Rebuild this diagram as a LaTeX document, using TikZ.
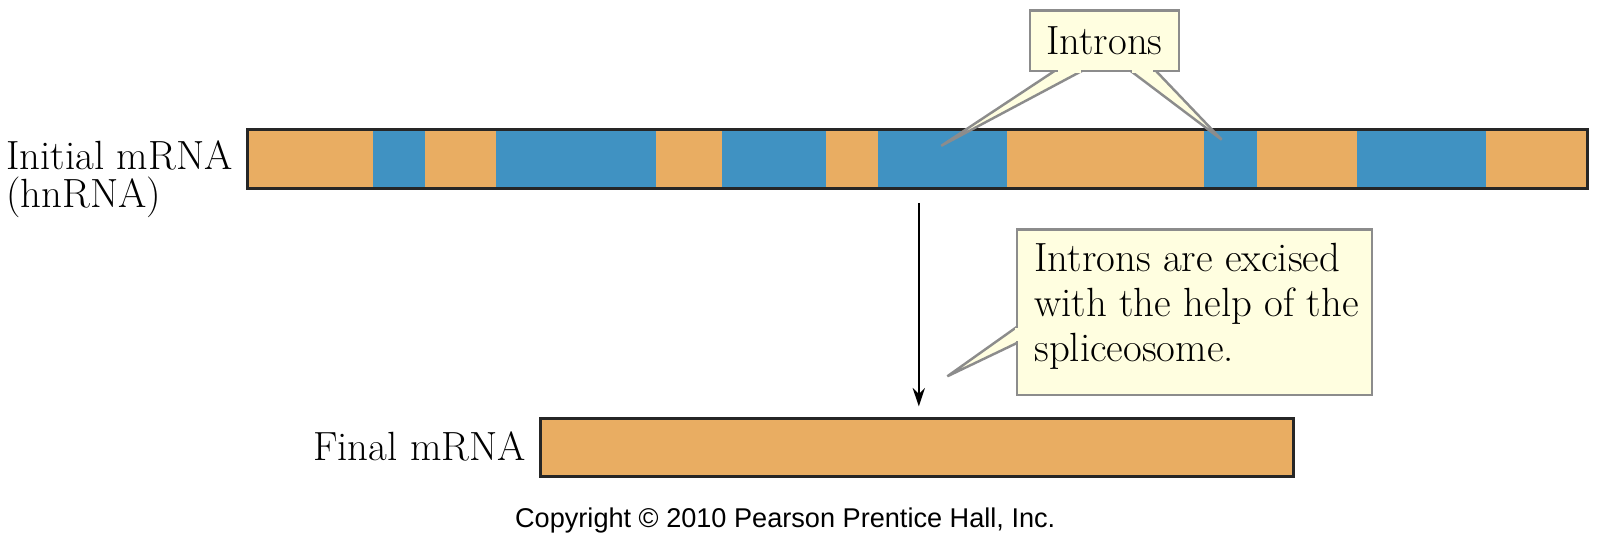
\documentclass[tikz,border=0pt]{standalone}
\usepackage{fontspec}
\usetikzlibrary{arrows.meta}
\newfontfamily\cpfont{Liberation Sans}
\definecolor{exon}{HTML}{E9AD62}
\definecolor{intron}{HTML}{4092C2}
\definecolor{callfill}{HTML}{FFFEE0}
\definecolor{callline}{HTML}{8C8C8C}
\tikzset{
  barframe/.style={draw=black!85, line width=1.5pt},
  callout/.style={fill=callfill, draw=callline, line width=1.2pt},
  lbl/.style={font=\fontsize{20}{22}\selectfont, inner sep=0pt}
}
\begin{document}
\begin{tikzpicture}[x=0.5pt,y=-0.5pt]
\useasboundingbox (0,0) rectangle (1569,527.5);
% initial mRNA
\foreach \a/\b/\c in {243/366/exon,366/417/intron,417/486/exon,486/643/intron,643/708/exon,708/810/intron,810/861/exon,861/987/intron,987/1181/exon,1181/1233/intron,1233/1331/exon,1331/1457/intron,1457/1557/exon}
  \fill[\c] (\a,127) rectangle (\b,185);
\node[barframe, minimum width=657pt, minimum height=29pt, inner sep=0pt] (init) at (900,156) {};
\node[lbl, anchor=west, align=left, font=\fontsize{20}{18.5}\selectfont] (initlbl) at (6,176) {Initial mRNA\\(hnRNA)};
% final mRNA
\node[barframe, fill=exon, minimum width=369pt, minimum height=28.5pt, inner sep=0pt] (final) at (899,438.5) {};
\node[lbl, anchor=east] (finlbl) at (516,438) {Final mRNA};
% arrow
\coordinate (astart) at (901,199);
\draw[-{Stealth[length=9pt,width=6pt]}, line width=1.1pt] (astart) -- ([yshift=5pt]final.north -| astart);
% introns callout
\coordinate (t1) at (923,143);
\coordinate (t2) at (1198,137);
\filldraw[callout] (1035,69) -- (t1) -- (1062,69) -- cycle;
\filldraw[callout] (1108,69) -- (t2) -- (1133,69) -- cycle;
\node[callout, minimum width=73pt, minimum height=29.5pt, inner sep=0pt, font=\fontsize{20}{22}\selectfont] (intr) at (1083,40) {Introns};
\fill[callfill] (1037,68) -- (1060,68) -- (1060,72) -- (1037,72) -- cycle;
\fill[callfill] (1110,68) -- (1131,68) -- (1131,72) -- (1110,72) -- cycle;
% excision callout
\coordinate (t3) at (929,369);
\filldraw[callout] (998,320) -- (t3) -- (998,336) -- cycle;
\node[callout, minimum width=174pt, minimum height=81pt, inner sep=0pt, anchor=north west] (exc) at (996,224) {};
\fill[callfill] (995,321.5) rectangle (1000,334.5);
\node[lbl, align=left, anchor=north west] (exctext) at (1014,238) {Introns are excised\\with the help of the\\spliceosome.};
% copyright
\node[font=\cpfont\fontsize{13.3}{15}\selectfont, inner sep=0pt] (copy) at (770,510) {Copyright \textcopyright{} 2010 Pearson Prentice Hall, Inc.};
\end{tikzpicture}
\end{document}
